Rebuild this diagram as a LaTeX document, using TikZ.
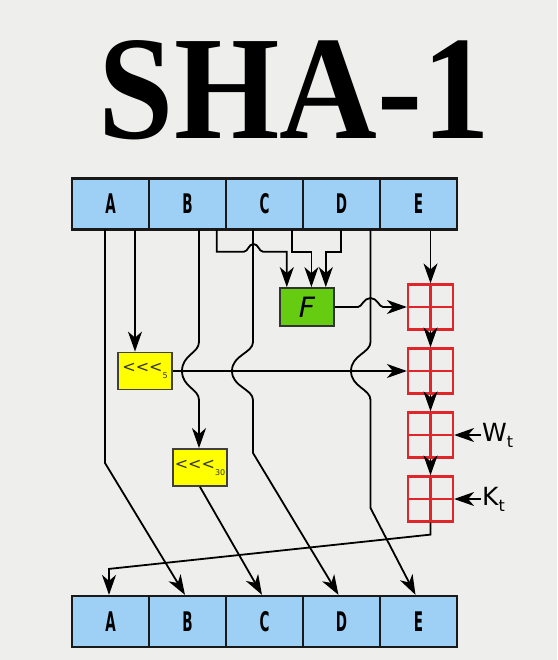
\documentclass[tikz,border=0pt]{standalone}
\usepackage{fontspec}
\setmainfont{Liberation Serif}
\newfontfamily\dvs{DejaVu Sans}
\usetikzlibrary{arrows.meta}
\definecolor{bg}{HTML}{EEEFED}
\definecolor{regblue}{HTML}{9DD0F4}
\definecolor{fgreen}{HTML}{66CC11}
\definecolor{ylw}{HTML}{FFFF00}
\definecolor{addred}{HTML}{E0262A}
\newcommand\reglett[1]{\scalebox{0.5}[1]{#1}}
\newcommand\rotl[1]{{\dvs\fontsize{16}{16}\selectfont <\kern0pt<\kern0pt<\raisebox{-6pt}{\fontsize{8}{8}\selectfont #1}}}
\begin{document}
\begin{tikzpicture}[x=1pt,y=-1pt,
  wire/.style={line width=1.8pt, black},
  arr/.style={wire, -{Stealth[length=20pt,width=14pt,inset=6pt]}},
  reg/.style={draw=black!90, line width=2.2pt, fill=regblue, minimum width=77pt, minimum height=51pt, inner sep=0pt, font=\dvs\bfseries\fontsize{27}{27}\selectfont},
  rotbox/.style={draw=black!75, line width=1.8pt, fill=ylw, minimum width=54pt, minimum height=37pt, inner sep=0pt, text=black!80},
  fbox/.style={draw=black!80, line width=1.8pt, fill=fgreen, minimum width=54pt, minimum height=38pt, inner sep=0pt, font=\dvs\itshape\fontsize{28}{28}\selectfont},
  adder/.style={draw=addred, line width=2.2pt, minimum size=45pt, inner sep=0pt,
    path picture={\draw[addred, line width=2.2pt] (path picture bounding box.north) -- (path picture bounding box.south) (path picture bounding box.west) -- (path picture bounding box.east);}},
  lbl/.style={anchor=west, inner sep=1pt, font=\dvs\fontsize{25}{25}\selectfont},
]
\fill[bg] (0,0) rectangle (557,660);
\useasboundingbox (0,0) rectangle (557,660);

% title
\node[anchor=base, inner sep=0pt] (title) at (294.5,139) {\scalebox{0.915}[1]{\fontsize{148}{150}\selectfont\bfseries SHA-1}};

% top register
\node[reg] (tA) at (110.5,204) {\reglett{A}};
\node[reg] (tB) at (187.5,204) {\reglett{B}};
\node[reg] (tC) at (264.5,204) {\reglett{C}};
\node[reg] (tD) at (341.5,204) {\reglett{D}};
\node[reg] (tE) at (418.5,204) {\reglett{E}};

% bottom register
\node[reg] (bA) at (110.5,621.5) {\reglett{A}};
\node[reg] (bB) at (187.5,621.5) {\reglett{B}};
\node[reg] (bC) at (264.5,621.5) {\reglett{C}};
\node[reg] (bD) at (341.5,621.5) {\reglett{D}};
\node[reg] (bE) at (418.5,621.5) {\reglett{E}};

% function and rotations
\node[fbox] (F) at (307,307) {F};
\node[rotbox] (r5) at (145,371) {\rotl{5}};
\node[rotbox] (r30) at (200,467.5) {\rotl{30}};

% adders
\node[adder] (a1) at (430.5,307) {};
\node[adder] (a2) at (430.5,371) {};
\node[adder] (a3) at (430.5,435) {};
\node[adder] (a4) at (430.5,499) {};

\node[lbl] (wt) at (481,435) {W\raisebox{-6pt}{\fontsize{16}{16}\selectfont t}};
\node[lbl] (kt) at (481,499) {K\raisebox{-6pt}{\fontsize{16}{16}\selectfont t}};

% start points on the top register
\coordinate (sA1) at (105,229.5);
\coordinate (sA2) at (135,229.5);
\coordinate (sB1) at (199,229.5);
\coordinate (sB2) at (216.7,229.5);
\coordinate (sC1) at (253,229.5);
\coordinate (sC2) at (291.7,229.5);
\coordinate (sD2) at (341,229.5);
\coordinate (sD1) at (370.5,229.5);

% adder chain
\draw[arr] (tE.south -| a1) -- (a1.north);
\draw[arr] (a1) -- (a2);
\draw[arr] (a2) -- (a3);
\draw[arr] (a3) -- (a4);
\draw[arr] (wt.west) -- (a3.east);
\draw[arr] (kt.west) -- (a4.east);

% inputs of F
\draw[arr] (sB2) |- (244,251.7) .. controls (248,251.7) and (248.5,244) .. (253.5,244) .. controls (258.5,244) and (259,251.7) .. (263,251.7) -| ([xshift=7.7pt]F.north west);
\draw[arr] (sC2) -- (291.7,251.7) -| ([xshift=32.3pt]F.north west);
\draw[arr] (sD2) -- (341,251.7) -| ([xshift=46.7pt]F.north west);

% F to adder 1, jumping over the D line
\draw[arr] (F.east) -- (358,307) .. controls (362,307) and (363.5,298) .. (370.5,298) .. controls (377.5,298) and (379,307) .. (383,307) -- (a1.west);

% rotate 5 to adder 2
\draw[arr] (sA2) -- (sA2 |- r5.north);
\draw[arr] (r5.east) -- (a2.west);

% lines jumping over the rotate-5 line
\draw[arr] (sB1) -- (199,342) .. controls (199,353) and (182,355) .. (182,371) .. controls (182,387) and (199,389) .. (199,400) -- (sB1 |- r30.north);
\draw[arr] (sC1) -- (253,342) .. controls (253,353) and (232,355) .. (232,371) .. controls (232,387) and (253,389) .. (253,400) -- (253,453) -- ([xshift=-3pt]bD.north);
\draw[arr] (sD1) -- (370.5,342) .. controls (370.5,353) and (351,355) .. (351,371) .. controls (351,387) and (370.5,389) .. (370.5,400) -- (370.5,508) -- ([xshift=-3pt]bE.north);

% remaining connections to the bottom register
\draw[arr] (sA1) -- (105,463) -- ([xshift=-2.5pt]bB.north);
\draw[arr] (r30.south) -- ([xshift=-2.5pt]bC.north);
\draw[arr] (a4.south) -- ++(0,12) -- ([xshift=-1.5pt,yshift=26pt]bA.north) -- ([xshift=-1.5pt]bA.north);
\end{tikzpicture}
\end{document}
